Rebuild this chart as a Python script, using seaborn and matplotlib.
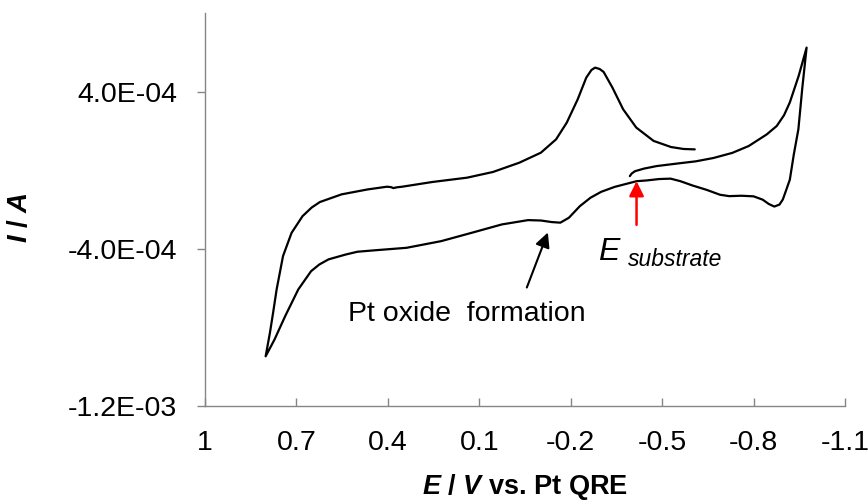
import numpy as np
import pandas as pd
import matplotlib
matplotlib.use("Agg")
import matplotlib.pyplot as plt
import seaborn as sns

# ---- data (potential in V, current in 1e-4 A) ----
potential_V = [
    -0.394, -0.400, -0.411, -0.440, -0.482, -0.550, -0.610, -0.668, -0.730, -0.784,
    -0.843, -0.876, -0.900, -0.919, -0.948, -0.974,
    -0.960, -0.947, -0.932, -0.919, -0.905, -0.896, -0.885, -0.868, -0.850, -0.830,
    -0.800, -0.760, -0.720, -0.690, -0.646, -0.600, -0.560, -0.528, -0.490, -0.450,
    -0.416, -0.344, -0.300, -0.265, -0.230, -0.194, -0.166, -0.138, -0.102, -0.060,
    0.026, 0.126, 0.225, 0.339, 0.438, 0.500, 0.538, 0.595, 0.625, 0.652,
    0.694, 0.737, 0.772, 0.801,
    0.787, 0.776, 0.765, 0.744, 0.716, 0.680, 0.650, 0.623, 0.552, 0.467,
    0.403, 0.390, 0.382, 0.370, 0.353, 0.254, 0.140, 0.055, -0.031, -0.102,
    -0.152, -0.187, -0.223, -0.251, -0.268, -0.280, -0.295, -0.308, -0.337, -0.372,
    -0.415, -0.472, -0.529, -0.570, -0.607,
]
current_1e4A = [
    -0.30, -0.17, -0.05, 0.08, 0.21, 0.34, 0.45, 0.62, 0.88, 1.23,
    1.82, 2.25, 2.80, 3.45, 4.80, 6.24,
    4.20, 2.08, 0.80, -0.48, -1.10, -1.49, -1.75, -1.85, -1.72, -1.50,
    -1.33, -1.30, -1.32, -1.25, -1.00, -0.78, -0.56, -0.43, -0.45, -0.52,
    -0.56, -0.85, -1.10, -1.40, -1.83, -2.42, -2.67, -2.64, -2.56, -2.54,
    -2.76, -3.19, -3.61, -3.95, -4.07, -4.15, -4.29, -4.54, -4.80, -5.14,
    -6.07, -7.43, -8.62, -9.47,
    -8.28, -7.20, -6.07, -4.37, -3.19, -2.34, -1.90, -1.62, -1.23, -0.98,
    -0.84, -0.86, -0.91, -0.87, -0.84, -0.60, -0.38, -0.09, 0.38, 0.89,
    1.57, 2.42, 3.61, 4.71, 5.10, 5.22, 5.15, 5.00, 4.20, 3.10,
    2.17, 1.49, 1.18, 1.08, 1.06,
]

x_ticks = [1, 0.7, 0.4, 0.1, -0.2, -0.5, -0.8, -1.1]
x_tick_labels = ["1", "0.7", "0.4", "0.1", "-0.2", "-0.5", "-0.8", "-1.1"]
y_ticks = [4.0e-4, -4.0e-4, -1.2e-3]
y_tick_labels = ["4.0E-04", "-4.0E-04", "-1.2E-03"]

# annotation anchors (data coords)
oxide_tip = (-0.125, -3.17e-4)
oxide_tail = (-0.056, -5.97e-4)
oxide_text_pos = (0.142, -7.30e-4)
subs_tip = (-0.416, -0.56e-4)
subs_tail = (-0.416, -2.78e-4)
E_pos = (-0.289, -4.55e-4)
sub_pos = (-0.388, -4.85e-4)

df = pd.DataFrame({"E": potential_V, "I": np.array(current_1e4A) * 1e-4})

sns.set_style("white")
plt.rcParams["font.family"] = ["Liberation Sans", "DejaVu Sans"]
plt.rcParams["text.color"] = "black"
plt.rcParams["axes.labelcolor"] = "black"
plt.rcParams["xtick.labelcolor"] = "black"
plt.rcParams["ytick.labelcolor"] = "black"
plt.rcParams["mathtext.fontset"] = "custom"
plt.rcParams["mathtext.it"] = "Liberation Sans:italic:bold"
plt.rcParams["mathtext.rm"] = "Liberation Sans:bold"
plt.rcParams["mathtext.bf"] = "Liberation Sans:bold"

fig = plt.figure(figsize=(8.68, 5.03), dpi=100)
ax = fig.add_axes([205 / 868, 1 - 406 / 503, 640 / 868, 393 / 503])

sns.lineplot(data=df, x="E", y="I", sort=False, estimator=None,
             color="black", linewidth=1.6, ax=ax)

ax.set_xlim(1, -1.1)
ax.set_ylim(-1.2e-3, 8e-4)
ax.set_xticks(x_ticks)
ax.set_xticklabels(x_tick_labels)
ax.set_yticks(y_ticks)
ax.set_yticklabels(y_tick_labels)

gray = "#868686"
for s in ["top", "right"]:
    ax.spines[s].set_visible(False)
for s in ["left", "bottom"]:
    ax.spines[s].set_color(gray)
    ax.spines[s].set_linewidth(1.0)

ax.tick_params(axis="x", direction="in", length=6, width=1.0, color=gray,
               labelsize=20.5, pad=17, bottom=True, labelcolor="black")
ax.tick_params(axis="y", direction="out", length=6, width=1.0, color=gray,
               labelsize=20.5, pad=14, left=True, labelcolor="black")

ax.set_xlabel(r"$E$ / $V$ vs. Pt QRE", fontsize=19.5, fontweight="bold", color="black")
ax.set_ylabel(r"$I$ / $A$", fontsize=20, fontweight="bold", color="black")
ax.yaxis.set_label_coords(-0.268, 0.48)
ax.xaxis.set_label_coords(0.5, -0.168)

# annotations
ax.annotate("", xy=oxide_tip, xytext=oxide_tail,
            arrowprops=dict(arrowstyle="-|>", color="black", lw=1.5,
                            mutation_scale=22, shrinkA=0, shrinkB=0))
ax.text(*oxide_text_pos, "Pt oxide  formation", fontsize=20.5,
        ha="center", va="center", color="black")
ax.annotate("", xy=subs_tip, xytext=subs_tail,
            arrowprops=dict(arrowstyle="-|>", color="#ff0000", lw=1.8,
                            mutation_scale=22, shrinkA=0, shrinkB=0))
ax.text(*E_pos, "E", fontsize=23, fontstyle="italic", ha="left", va="baseline",
        color="black")
ax.text(*sub_pos, "substrate", fontsize=16.5, fontstyle="italic",
        ha="left", va="baseline", color="black")

fig.savefig("out.png", dpi=100)
